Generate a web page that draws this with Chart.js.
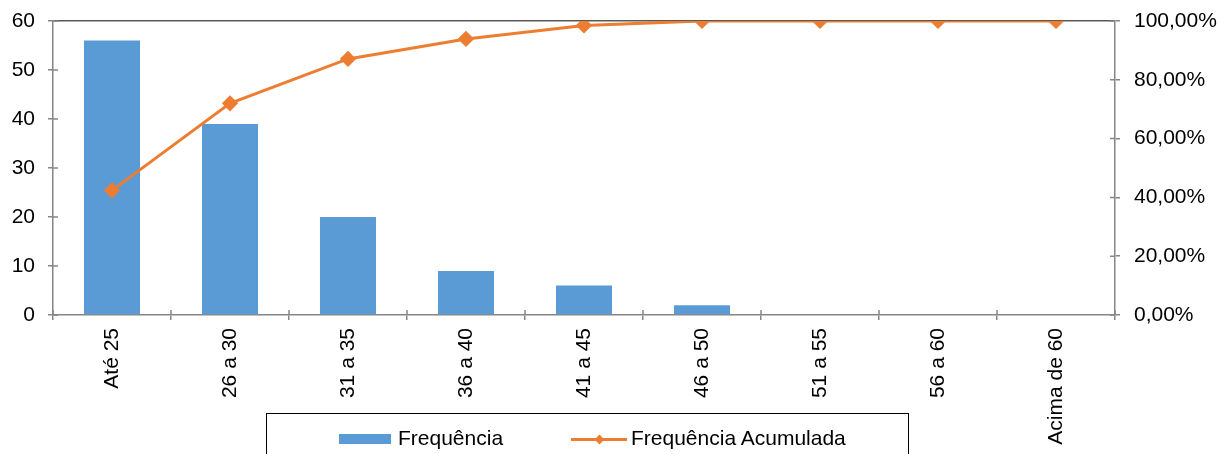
<!DOCTYPE html>
<html lang="pt-BR">
<head>
<meta charset="utf-8">
<script src="https://cdn.jsdelivr.net/npm/chart.js@4/dist/chart.umd.min.js"></script>
<style>
  html, body { margin: 0; padding: 0; background: #fff; overflow: hidden; }
  #wrap { position: relative; width: 1221px; height: 454px; }
  #legenda {
    position: absolute; left: 266px; top: 413px; width: 643px; height: 60px;
    border: 1.5px solid #000; box-sizing: border-box;
    font-family: "Liberation Sans", Arial, sans-serif; font-size: 21px; color: #000;
  }
  #legenda .item { position: absolute; top: 12px; line-height: 24px; }
  #legenda .caixa { position: absolute; width: 52px; height: 10px; background: #5B9BD5; top: 8px; left: -59px; }
  #legenda .linha { position: absolute; width: 56px; height: 3px; background: #ED7D31; top: 12px; left: -60px; }
  #legenda .losango { position: absolute; width: 7px; height: 7px; background: #ED7D31; top: 10px; left: -35px; transform: rotate(45deg); }
</style>
</head>
<body>
<div id="wrap">
  <canvas id="paretoChart" width="1221" height="454"></canvas>
  <div id="legenda">
    <div class="item" style="left:131px"><span class="caixa"></span>Frequência</div>
    <div class="item" style="left:364px"><span class="linha"></span><span class="losango"></span>Frequência Acumulada</div>
  </div>
</div>
<script>
// faixas etárias
const faixas = ["Até 25", "26 a 30", "31 a 35", "36 a 40", "41 a 45", "46 a 50", "51 a 55", "56 a 60", "Acima de 60"];
const frequencia = [56, 39, 20, 9, 6, 2, 0, 0, 0];
const acumulada = [42.4, 72.0, 87.1, 93.9, 98.5, 100, 100, 100, 100];

const fonte = { family: "'Liberation Sans', Arial, sans-serif", size: 21 };
const corEixo = "#868686";

// tracinhos que cruzam o eixo (parte de dentro)
const ticksCruzados = {
  id: "ticksCruzados",
  afterDatasetsDraw(chart) {
    const { ctx, scales } = chart;
    ctx.save();
    ctx.strokeStyle = corEixo;
    ctx.lineWidth = 1.5;
    ctx.beginPath();
    const x = scales.x;
    for (let i = 0; i <= faixas.length; i++) {
      const px = x.getPixelForValue(i - 0.5);
      ctx.moveTo(px, x.top);
      ctx.lineTo(px, x.top - 5);
    }
    scales.y.ticks.forEach((t, i) => {
      const py = scales.y.getPixelForTick(i);
      ctx.moveTo(scales.y.right, py);
      ctx.lineTo(scales.y.right + 5, py);
    });
    scales.y1.ticks.forEach((t, i) => {
      const py = scales.y1.getPixelForTick(i);
      ctx.moveTo(scales.y1.left, py);
      ctx.lineTo(scales.y1.left - 5, py);
    });
    ctx.stroke();
    ctx.restore();
  }
};

// largura fixa do eixo e sem folga extra no topo
const fixarEixo = w => s => { s.width = w; s.paddingTop = 0; s.paddingBottom = 0; };

new Chart(document.getElementById("paretoChart"), {
  data: {
    labels: faixas,
    datasets: [
      {
        type: "bar",
        label: "Frequência",
        data: frequencia,
        backgroundColor: "#5B9BD5",
        barPercentage: 0.475,
        categoryPercentage: 1,
        yAxisID: "y",
        order: 2
      },
      {
        type: "line",
        label: "Frequência Acumulada",
        data: acumulada,
        borderColor: "#ED7D31",
        backgroundColor: "#ED7D31",
        borderWidth: 3,
        pointStyle: "rectRot",
        pointRadius: 6,
        tension: 0,
        yAxisID: "y1",
        order: 1
      }
    ]
  },
  options: {
    responsive: false,
    animation: false,
    devicePixelRatio: 1,
    layout: { padding: { top: 21, left: 0, right: 0, bottom: 0 } },
    plugins: { legend: { display: false }, tooltip: { enabled: false } },
    scales: {
      x: {
        offset: true,
        border: { color: corEixo, width: 1.5 },
        grid: { offset: true, drawOnChartArea: false, color: corEixo, tickLength: 5, lineWidth: 1.5 },
        ticks: { font: fonte, color: "#000", maxRotation: 90, minRotation: 90, padding: 8, autoSkip: false },
        afterFit: s => { s.height = 139; s.paddingLeft = 0; s.paddingRight = 0; }
      },
      y: {
        position: "left",
        min: 0, max: 60,
        border: { color: corEixo, width: 1.5 },
        grid: {
          drawOnChartArea: true,
          color: c => (c.tick && c.tick.value === 60 ? "#595959" : "rgba(0,0,0,0)"),
          tickColor: corEixo,
          tickLength: 5,
          lineWidth: 1.5
        },
        ticks: { stepSize: 10, font: fonte, color: "#000", padding: 13 },
        afterFit: fixarEixo(53)
      },
      y1: {
        position: "right",
        min: 0, max: 100,
        border: { color: corEixo, width: 1.5 },
        grid: { drawOnChartArea: false, color: corEixo, tickLength: 5, lineWidth: 1.5 },
        ticks: {
          stepSize: 20, font: fonte, color: "#000", padding: 14,
          callback: v => v.toFixed(2).replace(".", ",") + "%"
        },
        afterFit: fixarEixo(106)
      }
    }
  },
  plugins: [ticksCruzados]
});
</script>
</body>
</html>
